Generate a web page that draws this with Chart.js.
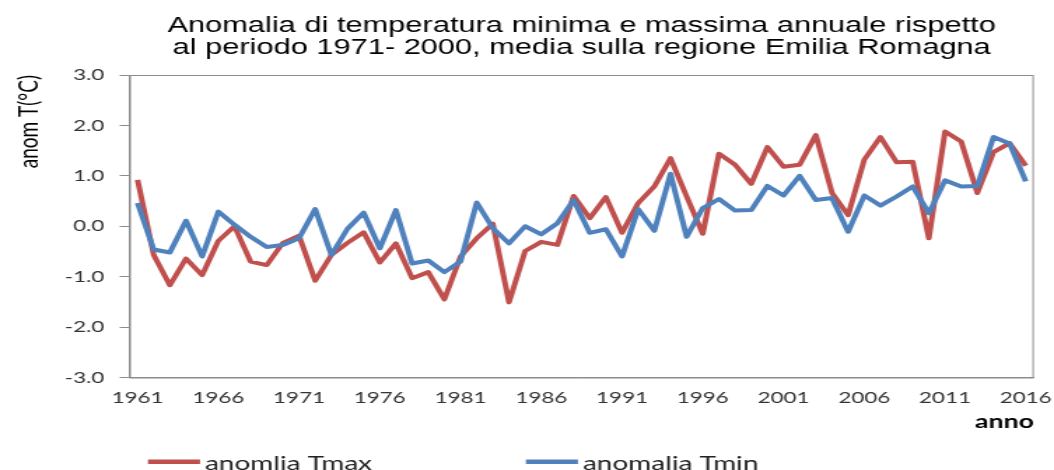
<!DOCTYPE html>
<html>
<head>
<meta charset="utf-8">
<script src="https://cdn.jsdelivr.net/npm/chart.js@4.4.1/dist/chart.umd.min.js"></script>
<style>
  html, body { margin: 0; padding: 0; background: #fff; overflow: hidden; }
  /* the chart is laid out on a narrower canvas and widened to the full page */
  #wrap { width: 753px; height: 470px; transform: scaleX(1.39973); transform-origin: 0 0; }
  canvas { display: block; }
</style>
</head>
<body>
<div id="wrap"><canvas id="chart" width="753" height="470"></canvas></div>
<script>
// Anni della serie
const years = [
  '1961','1962','1963','1964','1965','1966','1967','1968','1969','1970',
  '1971','1972','1973','1974','1975','1976','1977','1978','1979','1980',
  '1981','1982','1983','1984','1985','1986','1987','1988','1989','1990',
  '1991','1992','1993','1994','1995','1996','1997','1998','1999','2000',
  '2001','2002','2003','2004','2005','2006','2007','2008','2009','2010',
  '2011','2012','2013','2014','2015','2016'
];

// Anomalia della temperatura massima annuale (°C)
const tmaxAnomaly = [
   0.92, -0.57, -1.17, -0.64, -0.97, -0.29,  0.00, -0.70, -0.77, -0.33,
  -0.19, -1.08, -0.57, -0.33, -0.12, -0.72, -0.34, -1.03, -0.91, -1.45,
  -0.60, -0.24,  0.05, -1.51, -0.49, -0.31, -0.37,  0.60,  0.16,  0.58,
  -0.13,  0.46,  0.79,  1.35,  0.59, -0.15,  1.44,  1.22,  0.84,  1.57,
   1.18,  1.22,  1.81,  0.66,  0.22,  1.32,  1.77,  1.27,  1.28, -0.24,
   1.88,  1.68,  0.66,  1.47,  1.65,  1.20
];

// Anomalia della temperatura minima annuale (°C)
const tminAnomaly = [
   0.46, -0.46, -0.52,  0.11, -0.60,  0.29,  0.03, -0.21, -0.41, -0.37,
  -0.24,  0.34, -0.57, -0.05,  0.27, -0.44,  0.32, -0.74, -0.68, -0.91,
  -0.70,  0.47, -0.04, -0.34,  0.00, -0.16,  0.06,  0.52, -0.13, -0.06,
  -0.60,  0.34, -0.09,  1.04, -0.21,  0.36,  0.54,  0.31,  0.32,  0.80,
   0.61,  1.00,  0.52,  0.56, -0.11,  0.61,  0.41,  0.59,  0.79,  0.26,
   0.91,  0.79,  0.80,  1.77,  1.64,  0.89
];

// Anni etichettati sull'asse orizzontale
const tickYears = ['1961','1966','1971','1976','1981','1986','1991','1996','2001','2006','2011','2016'];

const seriesLabels = ['anomlia Tmax', 'anomalia Tmin'];
const titleLines = [
  'Anomalia di temperatura minima e massima annuale rispetto',
  'al periodo 1971- 2000, media sulla regione Emilia Romagna'
];

const AXIS_GREY = '#8c8c8c';
const TEXT_FONT = 'Lato, "Open Sans", sans-serif';

// Cornice grigia attorno all'area del grafico
const plotFrame = {
  id: 'plotFrame',
  beforeDatasetsDraw(chart) {
    const a = chart.chartArea;
    const ctx = chart.ctx;
    ctx.save();
    ctx.strokeStyle = AXIS_GREY;
    ctx.lineWidth = 1;
    ctx.strokeRect(a.left + 0.5, a.top + 0.5, a.right - a.left - 1, a.bottom - a.top);
    ctx.restore();
  }
};

// Legenda a linee sotto il grafico
const lineLegend = {
  id: 'lineLegend',
  afterDraw(chart, args, opts) {
    const ctx = chart.ctx;
    ctx.save();
    ctx.font = opts.font;
    ctx.textAlign = 'left';
    ctx.textBaseline = 'alphabetic';
    chart.data.datasets.forEach((ds, i) => {
      const x = opts.starts[i];
      ctx.strokeStyle = ds.borderColor;
      ctx.lineWidth = opts.lineWidth;
      ctx.beginPath();
      ctx.moveTo(x, opts.lineY);
      ctx.lineTo(x + opts.sampleLength, opts.lineY);
      ctx.stroke();
      ctx.fillStyle = opts.color;
      ctx.fillText(ds.label, x + opts.sampleLength + opts.gap, opts.baseline);
    });
    ctx.restore();
  }
};

new Chart(document.getElementById('chart'), {
  type: 'line',
  data: {
    labels: years,
    datasets: [
      {
        label: seriesLabels[0],
        data: tmaxAnomaly,
        borderColor: '#c0504d',
        backgroundColor: '#c0504d',
        borderWidth: 4,
        borderJoinStyle: 'round',
        pointRadius: 0,
        tension: 0,
        order: 1
      },
      {
        label: seriesLabels[1],
        data: tminAnomaly,
        borderColor: '#4f81bd',
        backgroundColor: '#4f81bd',
        borderWidth: 4,
        borderJoinStyle: 'round',
        pointRadius: 0,
        tension: 0,
        order: 0
      }
    ]
  },
  options: {
    responsive: false,
    animation: false,
    devicePixelRatio: 1,
    layout: { padding: { left: 0, right: 14.4, top: 0, bottom: 0 } },
    plugins: {
      legend: { display: false },
      tooltip: { enabled: false },
      title: {
        display: true,
        text: titleLines,
        fullSize: false,
        color: '#000',
        font: { family: '"Liberation Sans", Arial, sans-serif', size: 22, weight: 'normal', lineHeight: 1 },
        padding: { top: 15, bottom: 16 }
      },
      lineLegend: {
        font: '20px ' + TEXT_FONT,
        color: '#222',
        starts: [105.7, 375.7],
        sampleLength: 37.2,
        gap: 3.5,
        lineY: 461.7,
        lineWidth: 4.5,
        baseline: 469.5
      }
    },
    scales: {
      x: {
        type: 'category',
        offset: true,
        afterFit(scale) {
          scale.height = 92.5;
          // the end labels may spill into the side margins
          scale.paddingLeft = 0;
          scale.paddingRight = 0;
        },
        grid: { display: false, drawTicks: false },
        border: { display: true, color: AXIS_GREY, width: 1 },
        ticks: {
          autoSkip: false,
          maxRotation: 0,
          minRotation: 0,
          padding: 11,
          color: '#333',
          font: { family: TEXT_FONT, size: 16 },
          callback(value) {
            const lab = this.getLabelForValue(value);
            return tickYears.includes(lab) ? lab : '';
          }
        },
        title: {
          display: true,
          text: 'anno',
          align: 'end',
          color: '#000',
          font: { family: TEXT_FONT, size: 19, weight: 'bold' },
          padding: { top: 0, bottom: 37 }
        }
      },
      y: {
        min: -3,
        max: 3,
        afterFit(scale) { scale.width = 92.5; },
        grid: { display: true, drawOnChartArea: false, drawTicks: true, tickLength: 7, color: AXIS_GREY },
        border: { display: true, color: AXIS_GREY, width: 1 },
        ticks: {
          stepSize: 1,
          padding: 11,
          color: '#333',
          font: { family: TEXT_FONT, size: 16 },
          callback(value) { return Number(value).toFixed(1); }
        },
        title: {
          display: true,
          text: 'anom T(°C)',
          align: 'end',
          color: '#000',
          font: { family: TEXT_FONT, size: 19 },
          padding: { top: 9, bottom: 0 }
        }
      }
    }
  },
  plugins: [plotFrame, lineLegend]
});
</script>
</body>
</html>
